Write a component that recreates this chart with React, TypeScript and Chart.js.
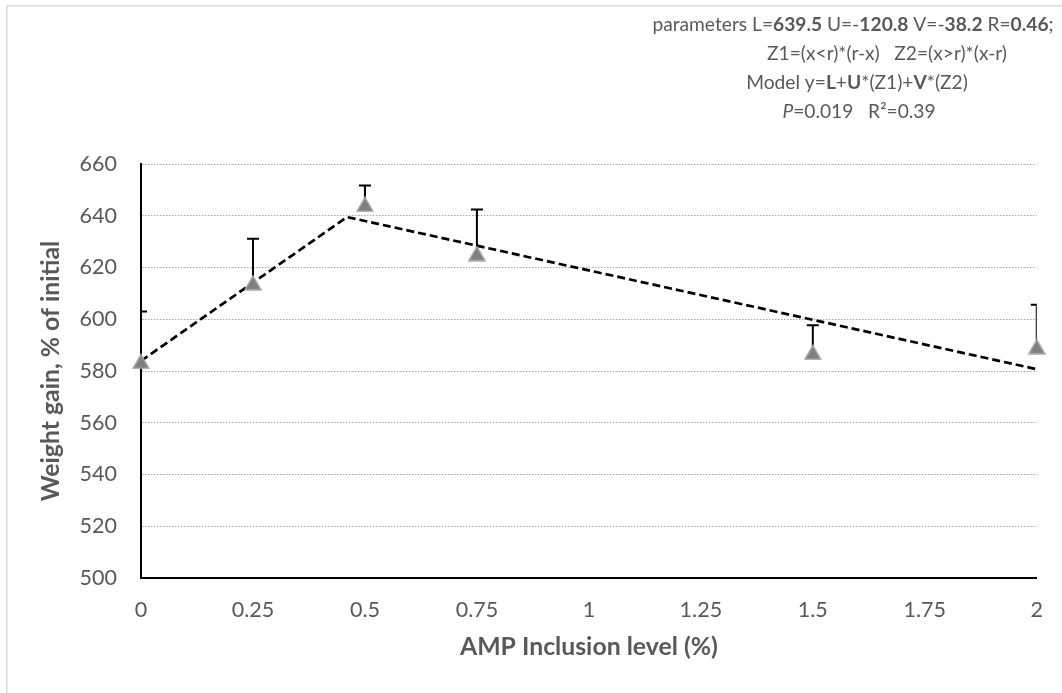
import React, { useEffect, useRef } from "react";
import { Chart, registerables } from "chart.js";

Chart.register(...registerables);

// ---- data ----
const inclusionLevels = [0, 0.25, 0.5, 0.75, 1.5, 2];
const weightGain = [583.7, 614.1, 644.4, 625.4, 587.2, 589.4];
const weightGainErr = [19.3, 17.0, 7.3, 17.0, 10.5, 16.2];
const modelX = [0, 0.46, 2];
const modelY = [583.9, 639.5, 580.7];
const xTickValues = [0, 0.25, 0.5, 0.75, 1, 1.25, 1.5, 1.75, 2];
const yTickValues = [500, 520, 540, 560, 580, 600, 620, 640, 660];
const xAxisTitle = "AMP Inclusion level (%)";
const yAxisTitle = "Weight gain, % of initial";
// [text, style] where style n=normal, b=bold, i=italic
const annotationLine1 = [["parameters L=", "n"], ["639.5", "b"], [" U=-", "n"], ["120.8", "b"], [" V=-", "n"], ["38.2", "b"], [" R=", "n"], ["0.46", "b"], [";", "n"]];
const annotationLine2 = [["Z1=(x<r)*(r-x)   Z2=(x>r)*(x-r)", "n"]];
const annotationLine3 = [["Model y=", "n"], ["L", "b"], ["+", "n"], ["U", "b"], ["*(Z1)+", "n"], ["V", "b"], ["*(Z2)", "n"]];
const annotationLine4 = [["P", "i"], ["=0.019   R\u00B2=0.39", "n"]];

const FONT = "Lato, 'Open Sans', sans-serif";
const TEXT = "#595959";

function makeTriangle() {
  const c = document.createElement("canvas");
  c.width = 18;
  c.height = 16;
  const g = c.getContext("2d")!;
  g.beginPath();
  g.moveTo(9, 1.2);
  g.lineTo(17, 15);
  g.lineTo(1, 15);
  g.closePath();
  g.fillStyle = "#7f7f7f";
  g.fill();
  g.strokeStyle = "#a9a9a9";
  g.lineWidth = 1.4;
  g.stroke();
  return c;
}

const frameBorderPlugin = {
  id: "frameBorder",
  beforeDraw(chart: any) {
    const { ctx, width, height } = chart;
    ctx.save();
    ctx.fillStyle = "#ffffff";
    ctx.fillRect(0, 0, width, height);
    ctx.fillStyle = "#dcdcdc";
    ctx.fillRect(6, 5, width, 1.6);
    ctx.fillRect(6, 5, 1.6, height);
    ctx.restore();
  },
};

const errorBarPlugin = {
  id: "errorBars",
  beforeDatasetsDraw(chart: any) {
    const { ctx, chartArea, scales } = chart;
    const xs = scales.x;
    const ys = scales.y;
    ctx.save();
    ctx.beginPath();
    ctx.rect(chartArea.left, chartArea.top - 30, chartArea.right - chartArea.left, chartArea.bottom - chartArea.top + 30);
    ctx.clip();
    ctx.strokeStyle = "#000000";
    ctx.lineWidth = 2;
    inclusionLevels.forEach((lv, i) => {
      const px = xs.getPixelForValue(lv);
      const py0 = ys.getPixelForValue(weightGain[i]);
      const py1 = ys.getPixelForValue(weightGain[i] + weightGainErr[i]);
      ctx.beginPath();
      ctx.moveTo(px, py0);
      ctx.lineTo(px, py1);
      ctx.moveTo(px - 6, py1);
      ctx.lineTo(px + 6, py1);
      ctx.stroke();
    });
    ctx.restore();
  },
};

const annotationPlugin = {
  id: "annotationText",
  afterDraw(chart: any) {
    const { ctx } = chart;
    const lines = [
      { runs: annotationLine1, cx: 853 },
      { runs: annotationLine2, cx: 887 },
      { runs: annotationLine3, cx: 857 },
      { runs: annotationLine4, cx: 859 },
    ];
    const size = 19.2;
    const fontFor = (s: string) =>
      (s === "b" ? "bold " : s === "i" ? "italic " : "") + size + "px " + FONT;
    ctx.save();
    ctx.fillStyle = TEXT;
    ctx.textBaseline = "alphabetic";
    ctx.textAlign = "left";
    lines.forEach((ln, i) => {
      let total = 0;
      ln.runs.forEach(([t, s]) => {
        ctx.font = fontFor(s);
        total += ctx.measureText(t).width;
      });
      let x = ln.cx - total / 2;
      const y = 31 + i * 28.9;
      ln.runs.forEach(([t, s]) => {
        ctx.font = fontFor(s);
        ctx.fillText(t, x, y);
        x += ctx.measureText(t).width;
      });
    });
    ctx.restore();
  },
};

export default function App() {
  const ref = useRef<HTMLCanvasElement | null>(null);
  useEffect(() => {
    if (!ref.current) return;
    const tri = makeTriangle();
    const chart = new Chart(ref.current, {
      type: "scatter",
      data: {
        datasets: [
          {
            label: "Weight gain",
            data: inclusionLevels.map((x, i) => ({ x, y: weightGain[i] })),
            pointStyle: tri as any,
            pointRadius: 8,
            showLine: false,
            clip: false as any,
            order: 0,
          },
          {
            label: "Model",
            data: modelX.map((x, i) => ({ x, y: modelY[i] })),
            showLine: true,
            borderColor: "#000000",
            borderWidth: 2.7,
            borderDash: [8, 4],
            pointRadius: 0,
            fill: false,
            order: 1,
          },
        ],
      },
      options: {
        animation: false,
        responsive: false,
        layout: { padding: { left: 0, top: 164, right: 25, bottom: 0 } },
        plugins: {
          legend: { display: false },
          tooltip: { enabled: false },
        },
        scales: {
          x: {
            type: "linear",
            min: 0,
            max: 2,
            afterBuildTicks: (s: any) => {
              s.ticks = xTickValues.map((v) => ({ value: v }));
            },
            afterFit: (s: any) => {
              s.height = 115;
            },
            grid: { display: false, drawTicks: false },
            border: { display: true, color: "#000000", width: 2 },
            ticks: {
              color: TEXT,
              font: { family: FONT, size: 21.5 },
              padding: 19,
              maxRotation: 0,
              callback: (v: any) => String(v),
            },
            title: {
              display: true,
              text: xAxisTitle,
              color: TEXT,
              font: { family: FONT, size: 24.8, weight: "bold" },
              padding: { top: 0, bottom: 31 },
            },
          },
          y: {
            type: "linear",
            min: 500,
            max: 660,
            afterBuildTicks: (s: any) => {
              s.ticks = yTickValues.map((v) => ({ value: v }));
            },
            afterFit: (s: any) => {
              s.width = 141;
            },
            grid: { display: true, color: "#a6a6a6", lineWidth: 1, drawTicks: false },
            border: { display: true, color: "#000000", width: 2, dash: [1.5, 1.5] },
            ticks: {
              color: TEXT,
              font: { family: FONT, size: 21.5 },
              padding: 24,
              callback: (v: any) => String(v),
            },
            title: {
              display: true,
              text: yAxisTitle,
              color: TEXT,
              font: { family: FONT, size: 24.8, weight: "bold" },
              padding: { top: 36, bottom: 0 },
            },
          },
        },
      },
      plugins: [frameBorderPlugin, errorBarPlugin, annotationPlugin],
    });
    return () => chart.destroy();
  }, []);
  return (
    <div style={{ position: "fixed", left: 0, top: 0, width: 1062, height: 693, background: "#fff" }}>
      <canvas ref={ref} width={1062} height={693} style={{ display: "block" }} />
    </div>
  );
}
